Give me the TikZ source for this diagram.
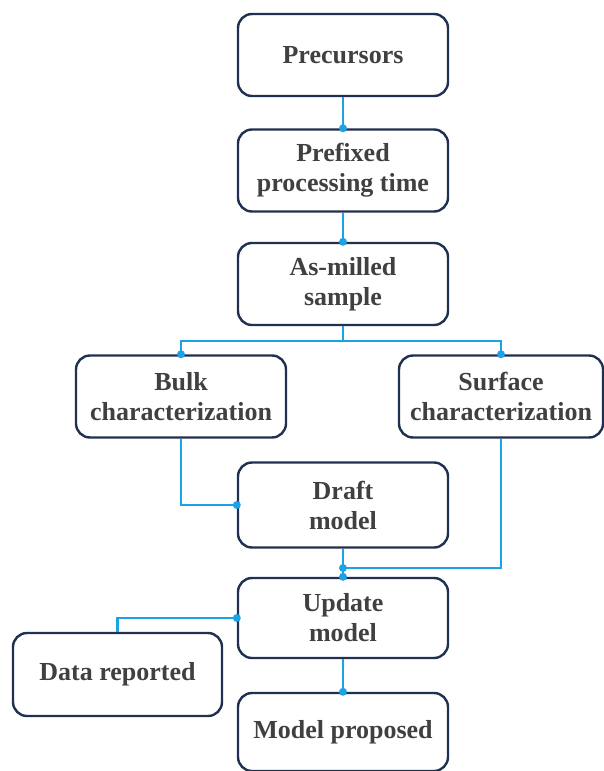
\documentclass[tikz,border=0pt]{standalone}
\usepackage{fontspec}
\setmainfont{LiberationSerif}[Extension=.ttf, UprightFont=*-Regular, BoldFont=*-Bold]
\definecolor{boxline}{HTML}{1F3050}
\definecolor{linkblue}{HTML}{1CA3E6}
\definecolor{labelgray}{HTML}{404040}
\begin{document}
\begin{tikzpicture}[x=1pt,y=-1pt,
  stagebox/.style={draw=boxline, line width=2.4pt, rounded corners=14pt,
    minimum width=210pt, minimum height=82pt, inner sep=0pt,
    align=center, text=labelgray,
    font=\fontsize{26}{30}\selectfont\bfseries},
  link/.style={draw=linkblue, line width=2.3pt},
  joint/.style={fill=linkblue}]
\useasboundingbox (0,0) rectangle (604,771);

% process stages
\node[stagebox] (pre)   at (343,55)    {Precursors};
\node[stagebox] (pfx)   at (343,170.5) {Prefixed\\processing time};
\node[stagebox] (asm)   at (343,284)   {As-milled\\sample};
\node[stagebox] (bulk)  at (181,396.5) {Bulk\\characterization};
\node[stagebox, minimum width=204pt] (surf) at (501,396.5) {Surface\\characterization};
\node[stagebox, minimum height=85pt] (draft) at (343,505) {Draft\\model};
\node[stagebox, minimum height=80pt] (upd)  at (343,618)   {Update\\model};
\node[stagebox, minimum width=209pt, minimum height=83pt] (data) at (117.5,674.5) {Data reported};
\node[stagebox, minimum height=78pt] (prop) at (343,732)   {Model proposed};

% junction points of the branching lines
\coordinate (split) at (343,341);
\coordinate (merge) at (343,568);

% connectors
\draw[link] (pre.south) -- (pfx.north);
\draw[link] (pfx.south) -- (asm.north);
\draw[link] (asm.south) -- (split);
\draw[link] (split) -| (bulk.north);
\draw[link] (split) -| (surf.north);
\draw[link] (bulk.south) |- (draft.west);
\draw[link] (draft.south) -- (merge);
\draw[link] (surf.south) |- (merge);
\draw[link] (merge) -- (upd.north);
\draw[link] (upd.west) -| (data.north);
\draw[link] (upd.south) -- (prop.north);

% connection dots
\foreach \p in {pfx.north, asm.north, bulk.north, surf.north, draft.west,
                merge, upd.north, upd.west, prop.north}
  \fill[joint] (\p) circle (4pt);
\end{tikzpicture}
\end{document}
